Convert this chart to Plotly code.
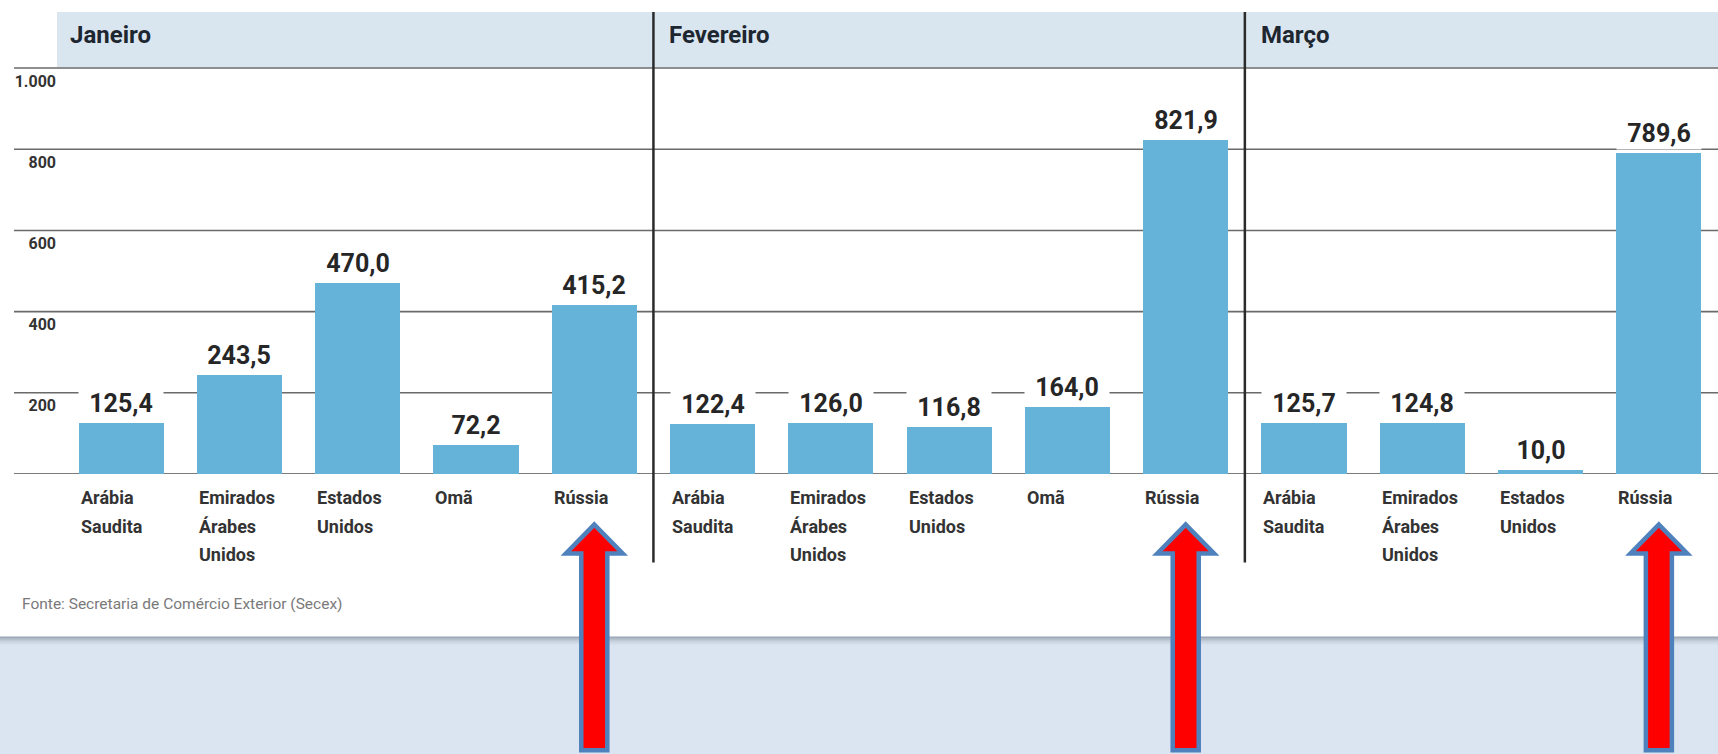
import plotly.graph_objects as go

# ---------------- data ----------------
months = ["Janeiro", "Fevereiro", "Março"]
countries_jan = ["Arábia\nSaudita", "Emirados\nÁrabes\nUnidos", "Estados\nUnidos", "Omã", "Rússia"]
values_jan = [125.4, 243.5, 470.0, 72.2, 415.2]
countries_fev = ["Arábia\nSaudita", "Emirados\nÁrabes\nUnidos", "Estados\nUnidos", "Omã", "Rússia"]
values_fev = [122.4, 126.0, 116.8, 164.0, 821.9]
countries_mar = ["Arábia\nSaudita", "Emirados\nÁrabes\nUnidos", "Estados\nUnidos", "Rússia"]
values_mar = [125.7, 124.8, 10.0, 789.6]
y_ticks = [200, 400, 600, 800, 1000]
source_text = "Fonte: Secretaria de Comércio Exterior (Secex)"
highlight = "Rússia"

# ---------------- layout constants (pixels) ----------------
W, H = 1718, 754
ML, MR, MT = 62, 0, 64
ZERO_PX = 474.4
MB = H - ZERO_PX
PLOT_H = ZERO_PX - MT
PLOT_W = W - ML - MR
BAR_COLOR = "#66b3da"
HEADER_COLOR = "#d9e6f0"
GRID_COLOR = "#6a6a6a"
TEXT_DARK = "#262626"
FONT = "Roboto, 'Open Sans', Arial, sans-serif"
BAR_W = 0.72
Y_MAX = 1010


def py(p):  # pixel y -> paper y
    return (ZERO_PX - p) / PLOT_H


def px(p):  # pixel x -> paper x
    return (p - ML) / PLOT_W


groups = [(months[0], countries_jan, values_jan),
          (months[1], countries_fev, values_fev),
          (months[2], countries_mar, values_mar)]

xs, ys, labels, month_starts = [], [], [], []
for m, cs, vs in groups:
    month_starts.append(len(xs))
    for c, v in zip(cs, vs):
        xs.append(len(xs))
        ys.append(v)
        labels.append(c)
N = len(xs)

fig = go.Figure()
fig.add_trace(go.Bar(x=xs, y=ys, width=BAR_W, marker=dict(color=BAR_COLOR, line=dict(width=0)),
                     hoverinfo="skip", showlegend=False))

shapes = []
# bottom background + shadow
shapes.append(dict(type="rect", xref="paper", yref="paper", x0=px(-5), x1=px(W + 5), y0=py(637), y1=py(H + 5),
                   fillcolor="#dbe5f1", line=dict(width=0), layer="below"))
for i, a in enumerate([0.38, 0.27, 0.17, 0.10, 0.05]):
    shapes.append(dict(type="rect", xref="paper", yref="paper", x0=px(-5), x1=px(W + 5),
                       y0=py(637 + i * 1.6), y1=py(637 + (i + 1) * 1.6),
                       fillcolor=f"rgba(60,70,90,{a})", line=dict(width=0), layer="below"))
# header band
shapes.append(dict(type="rect", xref="paper", yref="paper", x0=px(57), x1=1.0, y0=py(12), y1=py(67.5),
                   fillcolor=HEADER_COLOR, line=dict(width=0), layer="below"))
# gridlines
for t in [0] + y_ticks:
    shapes.append(dict(type="line", xref="paper", yref="y", x0=px(14), x1=1.0, y0=t, y1=t,
                       line=dict(color="#505050" if t == 0 else GRID_COLOR, width=1.6), layer="below"))
# month separators
for s in month_starts[1:]:
    shapes.append(dict(type="line", xref="x", yref="paper", x0=s - 0.5, x1=s - 0.5, y0=py(12), y1=py(563),
                       line=dict(color="#2b2b2b", width=2.5), layer="above"))
# arrows under highlighted category
for x, lab in zip(xs, labels):
    if lab == highlight:
        hh, hs = 0.24, 0.11
        tip, base, bot = py(525), py(554), py(751)
        path = (f"M {x} {tip} L {x + hh} {base} L {x + hs} {base} L {x + hs} {bot} "
                f"L {x - hs} {bot} L {x - hs} {base} L {x - hh} {base} Z")
        shapes.append(dict(type="path", xref="x", yref="paper", path=path, fillcolor="#ff0000",
                           line=dict(color="#4f81bd", width=4.5), layer="above"))

annotations = []
# month headers
for k, (m, s) in enumerate(zip(months, month_starts)):
    annotations.append(dict(xref="x", yref="paper", x=s - 0.5, y=py(35), xanchor="left", yanchor="middle",
                            xshift=6 if k == 0 else 14, text=f"<b>{m}</b>", showarrow=False,
                            font=dict(family=FONT, size=24, color="#1e2730")))
# value labels
for x, v in zip(xs, ys):
    annotations.append(dict(xref="x", yref="y", x=x, y=v, xanchor="center", yanchor="bottom", yshift=3,
                            text=f"<b>{v:.1f}</b>".replace(".", ","), showarrow=False, bgcolor="white",
                            width=84, height=32, borderpad=0, valign="middle",
                            font=dict(family=FONT, size=25, color=TEXT_DARK)))
# category labels (left aligned with bar left edge)
for x, lab in zip(xs, labels):
    for j, line in enumerate(lab.split("\n")):
        annotations.append(dict(xref="x", yref="paper", x=x - BAR_W / 2, y=py(498 + j * 28.5),
                                xanchor="left", yanchor="middle", text=f"<b>{line}</b>", showarrow=False,
                                font=dict(family=FONT, size=18, color="#333333")))
# source
annotations.append(dict(xref="paper", yref="paper", x=px(20), y=py(605), xanchor="left", yanchor="middle",
                        text=source_text, showarrow=False, font=dict(family=FONT, size=15.5, color="#7a7a7a")))

fig.update_layout(
    width=W, height=H,
    margin=dict(l=ML, r=MR, t=MT, b=MB, pad=0),
    paper_bgcolor="white", plot_bgcolor="rgba(0,0,0,0)",
    separators=",.",
    bargap=0,
    xaxis=dict(range=[-0.5, N - 0.5], showticklabels=False, showgrid=False, zeroline=False,
               showline=False, ticks="", fixedrange=True),
    yaxis=dict(range=[0, Y_MAX], tickvals=y_ticks, tickformat=",d", showgrid=False, zeroline=False,
               showline=False, ticks="", ticklabelshift=13, ticklabelstandoff=5,
               tickfont=dict(family=FONT, size=16, color="#333333", weight="bold"), fixedrange=True),
    shapes=shapes, annotations=annotations,
    showlegend=False,
)

fig.write_html("out.html", config={"displayModeBar": False},
               post_script="document.body.style.margin='0';document.body.style.overflow='hidden';")
